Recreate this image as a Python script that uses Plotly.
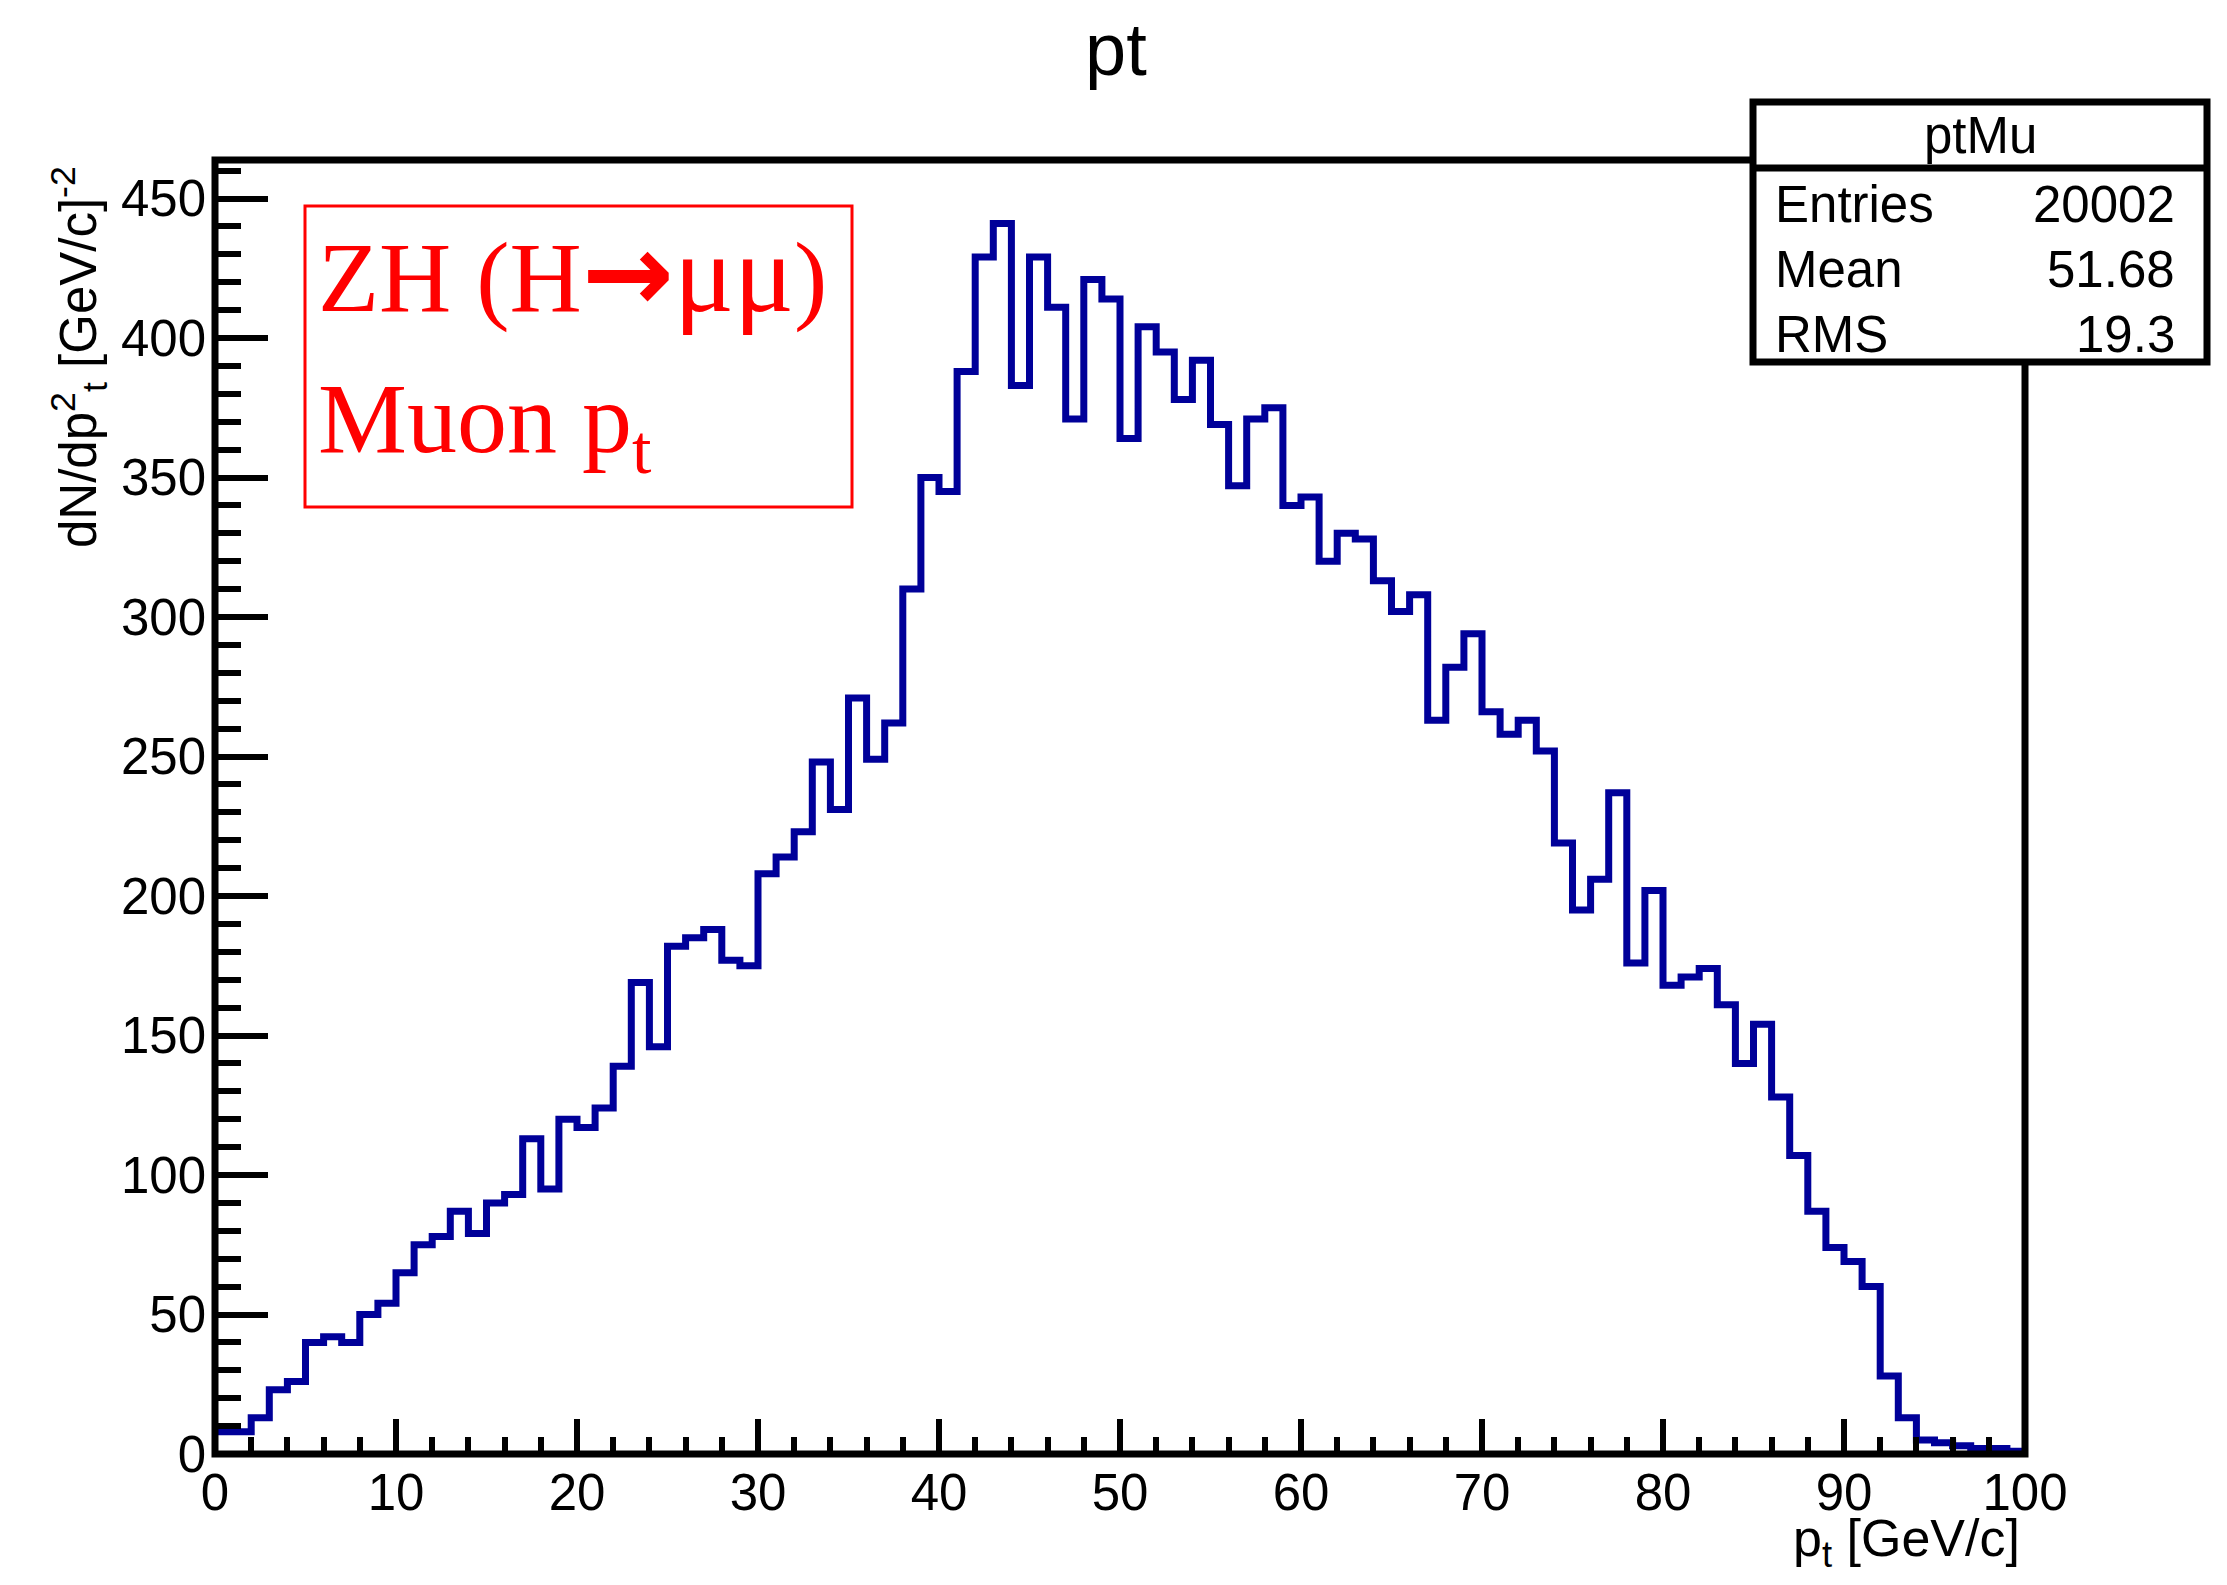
import numpy as np
import plotly.graph_objects as go

# Histogram "ptMu": 100 bins of 1 GeV/c between 0 and 100 GeV/c
bin_low = 0
bin_high = 100
counts = [8, 8, 13, 23, 26, 40, 42, 40, 50, 54,
          65, 75, 78, 87, 79, 90, 93, 113, 95, 120,
          117, 124, 139, 169, 146, 182, 185, 188, 177, 175,
          208, 214, 223, 248, 231, 271, 249, 262, 310, 350,
          345, 388, 429, 441, 383, 429, 411, 371, 421, 414,
          364, 404, 395, 378, 392, 369, 347, 371, 375, 340,
          343, 320, 330, 328, 313, 302, 308, 263, 282, 294,
          266, 258, 263, 252, 219, 195, 206, 237, 176, 202,
          168, 171, 174, 161, 140, 154, 128, 107, 87, 74,
          69, 60, 28, 13, 5, 4, 3, 2, 2, 1]

stats_labels = ["Entries", "Mean", "RMS"]
stats_values = ["20002", "51.68", "19.3"]
hist_name = "ptMu"

y_ticks = [0, 50, 100, 150, 200, 250, 300, 350, 400, 450]
x_ticks = [0, 10, 20, 30, 40, 50, 60, 70, 80, 90, 100]

W, H = 2227, 1585
L, R, T, B = 215, 2025, 160, 1454
Y_TOP = 463.8

SANS = "Liberation Sans, Arial, sans-serif"
SERIF = "Liberation Serif, Times New Roman, serif"
LINE_BLUE = "#000099"


def px_x(p):
    return (p - L) / (R - L)


def px_y(p):
    return (B - p) / (B - T)


edges = np.linspace(bin_low, bin_high, len(counts) + 1)
step_y = list(counts) + [counts[-1]]

fig = go.Figure()
fig.add_trace(go.Scatter(
    x=edges, y=step_y, mode="lines",
    line=dict(color=LINE_BLUE, width=7, shape="hv"),
    hoverinfo="skip", showlegend=False,
))

tick_font = dict(family=SANS, size=51, color="black")

fig.update_xaxes(
    range=[bin_low, bin_high], showgrid=False, zeroline=False, showline=False,
    tickmode="array", tickvals=x_ticks, ticktext=[str(v) for v in x_ticks],
    ticks="inside", ticklen=35, tickwidth=6, tickcolor="black",
    minor=dict(ticks="inside", dtick=2, ticklen=17, tickwidth=6,
               tickcolor="black", showgrid=False),
    tickfont=tick_font, ticklabelstandoff=4,
)
fig.update_yaxes(
    range=[0, Y_TOP], showgrid=False, zeroline=False, showline=False,
    tickmode="array", tickvals=y_ticks, ticktext=[str(v) for v in y_ticks],
    ticks="inside", ticklen=53, tickwidth=6, tickcolor="black",
    minor=dict(ticks="inside", dtick=10, ticklen=26, tickwidth=6,
               tickcolor="black", showgrid=False),
    tickfont=tick_font, ticklabelstandoff=8,
)

shapes = [
    # frame around the pad
    dict(type="rect", xref="paper", yref="paper", x0=0, x1=1, y0=0, y1=1,
         line=dict(color="black", width=7), layer="above"),
    # statistics box
    dict(type="rect", xref="paper", yref="paper",
         x0=px_x(1753), x1=px_x(2207), y0=px_y(362), y1=px_y(102),
         line=dict(color="black", width=7), fillcolor="white", layer="above"),
    dict(type="line", xref="paper", yref="paper",
         x0=px_x(1753), x1=px_x(2207), y0=px_y(168), y1=px_y(168),
         line=dict(color="black", width=7), layer="above"),
    # label box
    dict(type="rect", xref="paper", yref="paper",
         x0=px_x(305), x1=px_x(852), y0=px_y(507), y1=px_y(206),
         line=dict(color="#ff0000", width=3), fillcolor="rgba(0,0,0,0)",
         layer="above"),
]

arrow = "<span style='font-family:DejaVu Sans;font-weight:bold;font-size:110px'>→</span>"
mumu = "<span style='font-size:112px'>μμ</span>"

annotations = [
    dict(text="pt", x=px_x(1116), y=px_y(50), xanchor="center", yanchor="middle",
         font=dict(family=SANS, size=74, color="black")),
    dict(text="dN/dp<sup>2</sup><sub>t</sub> [GeV/c]<sup>-2</sup>",
         x=px_x(79), y=px_y(164), xanchor="center", yanchor="top", textangle=-90,
         font=dict(family=SANS, size=51, color="black")),
    dict(text="p<sub>t</sub> [GeV/c]", x=px_x(2022), y=px_y(1542),
         xanchor="right", yanchor="middle",
         font=dict(family=SANS, size=52, color="black")),
    dict(text=hist_name, x=px_x(1980), y=px_y(136), xanchor="center", yanchor="middle",
         font=dict(family=SANS, size=51, color="black")),
    dict(text="ZH (H" + arrow + mumu + ")", x=px_x(316), y=px_y(273), xanchor="left",
         yanchor="middle", font=dict(family=SERIF, size=100, color="#ff0000")),
    dict(text="Muon p<sub>t</sub>", x=px_x(316), y=px_y(425), xanchor="left",
         yanchor="middle", font=dict(family=SERIF, size=100, color="#ff0000")),
]

for label, value, yc in zip(stats_labels, stats_values, [205, 269, 334]):
    annotations.append(dict(text=label, x=px_x(1773), y=px_y(yc), xanchor="left",
                            yanchor="middle",
                            font=dict(family=SANS, size=51, color="black")))
    annotations.append(dict(text=value, x=px_x(2177), y=px_y(yc), xanchor="right",
                            yanchor="middle",
                            font=dict(family=SANS, size=51, color="black")))

for a in annotations:
    a.update(xref="paper", yref="paper", showarrow=False)

fig.update_layout(
    width=W, height=H,
    margin=dict(l=L, r=W - R, t=T, b=H - B, pad=0),
    paper_bgcolor="white", plot_bgcolor="white",
    shapes=shapes, annotations=annotations, showlegend=False,
)

fig.write_html("out.html")
